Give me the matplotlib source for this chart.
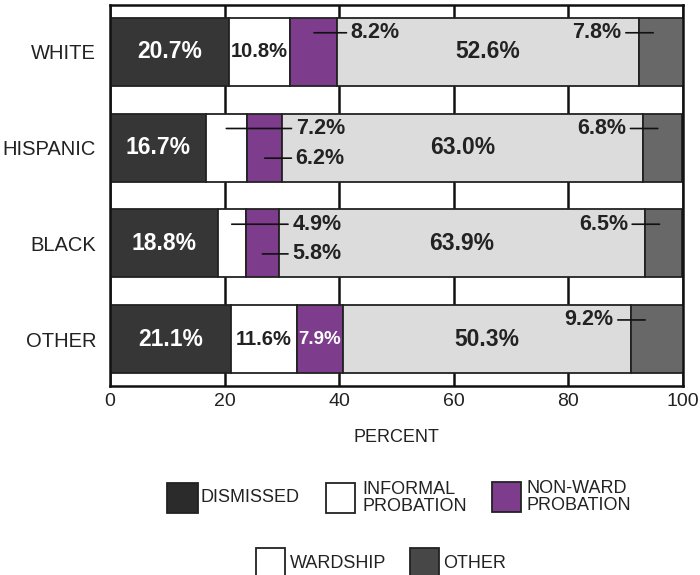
import matplotlib.pyplot as plt
from matplotlib.patches import Rectangle

plt.rcParams["font.family"] = ["Liberation Sans", "DejaVu Sans"]

GROUPS = ["WHITE", "HISPANIC", "BLACK", "OTHER"]
CATEGORIES = ["DISMISSED", "INFORMAL\nPROBATION", "NON-WARD\nPROBATION", "WARDSHIP", "OTHER"]
DISMISSED = [20.7, 16.7, 18.8, 21.1]
INFORMAL = [10.8, 7.2, 4.9, 11.6]
NON_WARD = [8.2, 6.2, 5.8, 7.9]
WARDSHIP = [52.6, 63.0, 63.9, 50.3]
OTHER = [7.8, 6.8, 6.5, 9.2]
XTICKS = [0, 20, 40, 60, 80, 100]

# how each small segment is labelled
INFORMAL_MODE = ["inside", "up", "up", "inside"]
NON_WARD_MODE = ["up", "down", "down", "inside"]

BAR_COLORS = ["#363636", "#ffffff", "#7d3d8c", "#dcdcdc", "#686868"]
LEGEND_COLORS = ["#2b2b2b", "#ffffff", "#7d3d8c", "#ffffff", "#474747"]

W, H = 700, 575
fig = plt.figure(figsize=(7, 5.75), dpi=100)
ax = fig.add_axes([110 / W, 1 - 386 / H, 573 / W, 381 / H])

series = [DISMISSED, INFORMAL, NON_WARD, WARDSHIP, OTHER]
ypos = list(range(len(GROUPS)))
lefts = [0.0] * len(GROUPS)
bounds = []  # (left, width) per series per group
for vals, color in zip(series, BAR_COLORS):
    ax.barh(ypos, vals, left=lefts, height=0.71, color=color,
            edgecolor="#222222", linewidth=1.3, zorder=2)
    bounds.append([(l, v) for l, v in zip(lefts, vals)])
    lefts = [l + v for l, v in zip(lefts, vals)]


def pct(v):
    return f"{v:.1f}%"


line = dict(arrowstyle="-", lw=1.2, color="#111111", shrinkA=1, shrinkB=0)
for i, y in enumerate(ypos):
    # dismissed
    l, v = bounds[0][i]
    ax.text(l + v / 2, y, pct(v), ha="center", va="center", color="white",
            fontsize=16.5, fontweight="bold", zorder=4)
    # wardship
    l, v = bounds[3][i]
    ax.text(l + v / 2, y, pct(v), ha="center", va="center", color="#222222",
            fontsize=16.5, fontweight="bold", zorder=4)

    nw_end = bounds[2][i][0] + bounds[2][i][1]
    # informal probation
    l, v = bounds[1][i]
    if INFORMAL_MODE[i] == "inside":
        ax.text(l + v / 2, y, pct(v), ha="center", va="center", color="#222222",
                fontsize=14.5, fontweight="bold", zorder=4)
    else:
        dy = -0.2 if INFORMAL_MODE[i] == "up" else 0.11
        ax.annotate(pct(v), xy=(l + v / 2, y + dy), xytext=(nw_end + 2.3, y + dy),
                    ha="left", va="center", fontsize=15.5, fontweight="bold",
                    color="#222222", arrowprops=line, zorder=4)
    # non-ward probation
    l, v = bounds[2][i]
    if NON_WARD_MODE[i] == "inside":
        ax.text(l + v / 2, y, pct(v), ha="center", va="center", color="white",
                fontsize=13.5, fontweight="bold", zorder=4)
    else:
        dy = -0.2 if NON_WARD_MODE[i] == "up" else 0.11
        ax.annotate(pct(v), xy=(l + v / 2, y + dy), xytext=(nw_end + 2.3, y + dy),
                    ha="left", va="center", fontsize=15.5, fontweight="bold",
                    color="#222222", arrowprops=line, zorder=4)
    # other
    l, v = bounds[4][i]
    ax.annotate(pct(v), xy=(l + 2.5, y - 0.2), xytext=(l - 3, y - 0.2),
                ha="right", va="center", fontsize=15.5, fontweight="bold",
                color="#222222", arrowprops=line, zorder=4)

ax.set_xlim(0, 100)
ax.set_ylim(3.49, -0.49)
ax.set_yticks(ypos)
ax.set_yticklabels(GROUPS)
ax.set_xticks(XTICKS)
ax.tick_params(axis="x", length=0, labelsize=14, pad=5, colors="#222222")
ax.tick_params(axis="y", length=0, labelsize=14.5, pad=10, colors="#222222")
ax.xaxis.grid(True, color="#111111", lw=1.8)
ax.set_axisbelow(True)
for sp in ax.spines.values():
    sp.set_linewidth(1.8)
    sp.set_color("#111111")
ax.set_xlabel("PERCENT", fontsize=13, labelpad=14, color="#222222")

# legend drawn by hand, two rows
legend_items = [
    (167, 483, 31, 30, 200),
    (326, 483, 29, 30, 362),
    (492, 482, 29, 30, 527),
    (256, 548, 29, 30, 290),
    (410, 548, 29, 30, 443),
]
for (x, y, w, h, tx), label, color in zip(legend_items, CATEGORIES, LEGEND_COLORS):
    fig.add_artist(Rectangle((x / W, 1 - (y + h) / H), w / W, h / H,
                             transform=fig.transFigure, facecolor=color,
                             edgecolor="#222222", linewidth=1.3))
    fig.text(tx / W, 1 - (y + 15) / H, label, ha="left", va="center",
             fontsize=13, linespacing=0.95, color="#222222")

fig.savefig("out.png", dpi=100)
